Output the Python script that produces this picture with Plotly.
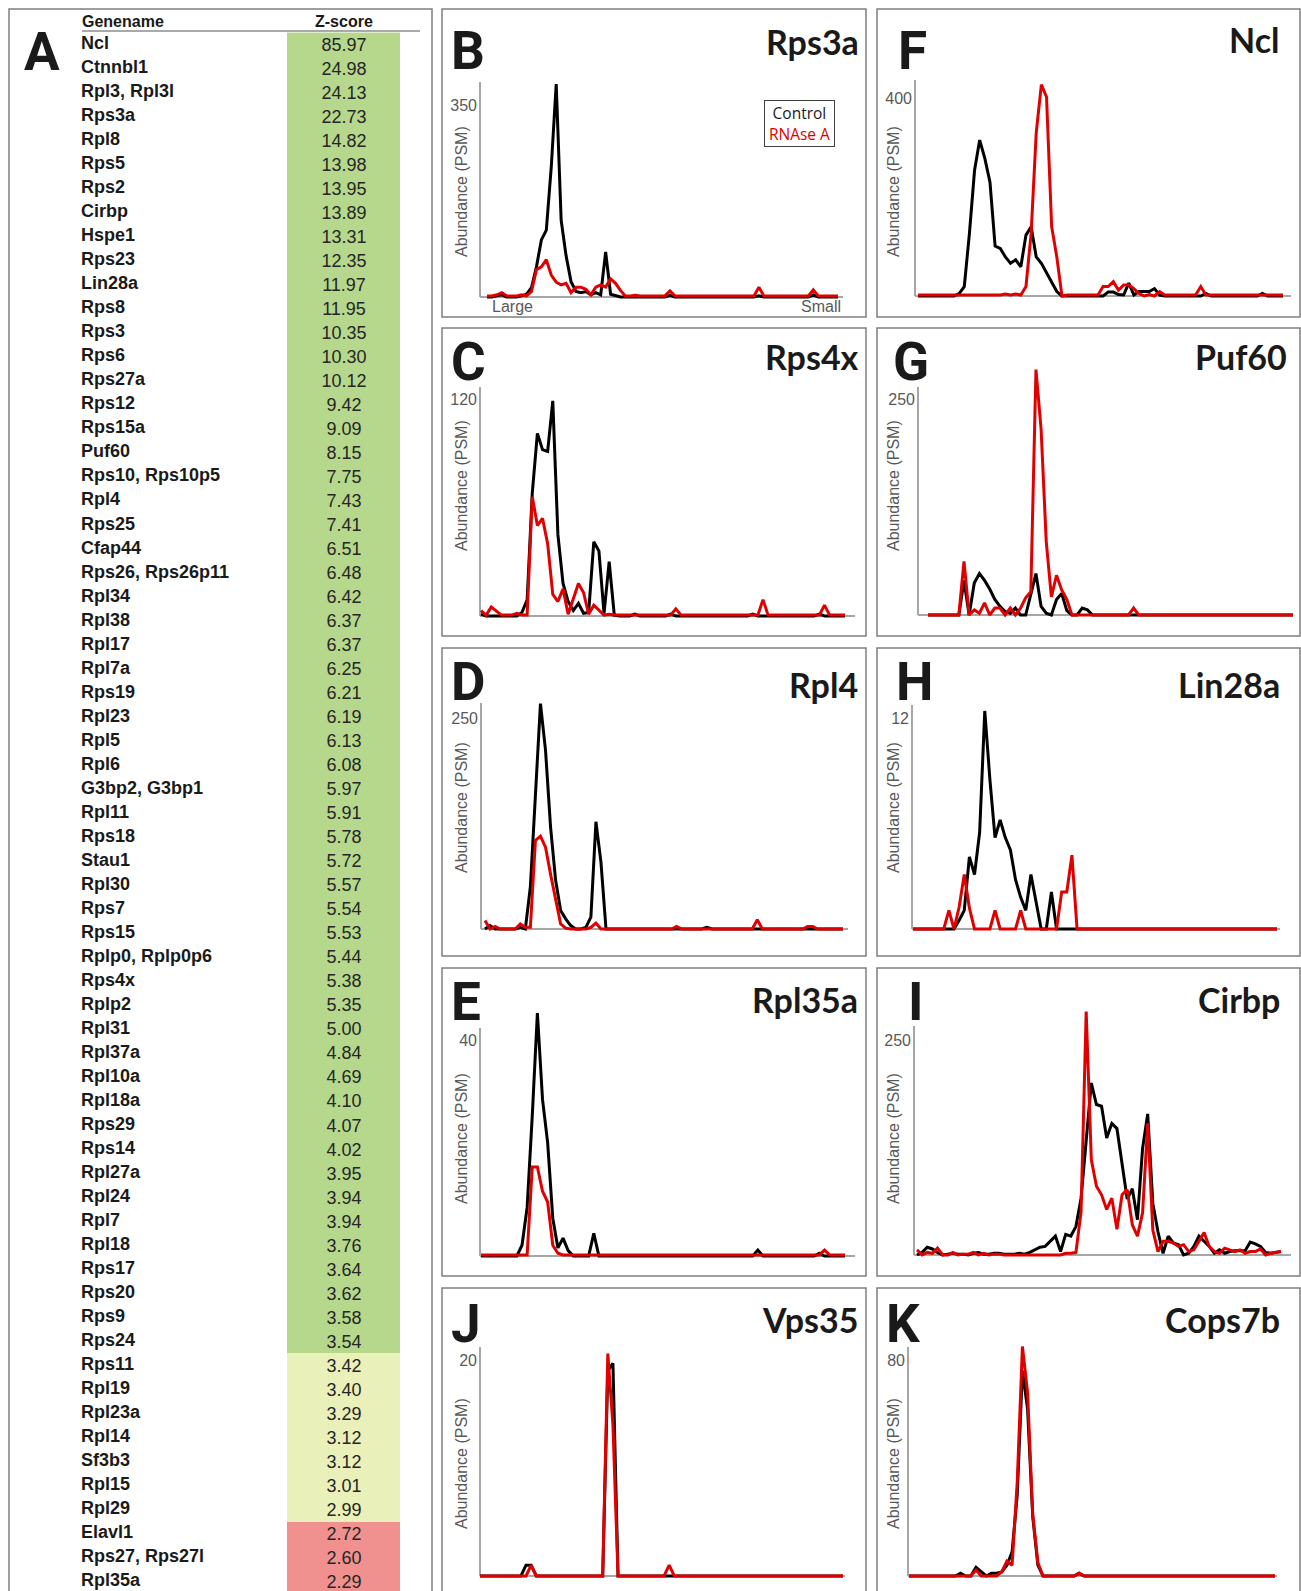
import plotly.graph_objects as go

W, H = 1301, 1591
N = 72

# ---------------- Panel A table data ----------------
genes = ["Ncl", "Ctnnbl1", "Rpl3, Rpl3l", "Rps3a", "Rpl8", "Rps5", "Rps2", "Cirbp", "Hspe1", "Rps23",
         "Lin28a", "Rps8", "Rps3", "Rps6", "Rps27a", "Rps12", "Rps15a", "Puf60", "Rps10, Rps10p5", "Rpl4",
         "Rps25", "Cfap44", "Rps26, Rps26p11", "Rpl34", "Rpl38", "Rpl17", "Rpl7a", "Rps19", "Rpl23", "Rpl5",
         "Rpl6", "G3bp2, G3bp1", "Rpl11", "Rps18", "Stau1", "Rpl30", "Rps7", "Rps15", "Rplp0, Rplp0p6", "Rps4x",
         "Rplp2", "Rpl31", "Rpl37a", "Rpl10a", "Rpl18a", "Rps29", "Rps14", "Rpl27a", "Rpl24", "Rpl7",
         "Rpl18", "Rps17", "Rps20", "Rps9", "Rps24", "Rps11", "Rpl19", "Rpl23a", "Rpl14", "Sf3b3",
         "Rpl15", "Rpl29", "Elavl1", "Rps27, Rps27l", "Rpl35a"]
zscores = [85.97, 24.98, 24.13, 22.73, 14.82, 13.98, 13.95, 13.89, 13.31, 12.35,
           11.97, 11.95, 10.35, 10.30, 10.12, 9.42, 9.09, 8.15, 7.75, 7.43,
           7.41, 6.51, 6.48, 6.42, 6.37, 6.37, 6.25, 6.21, 6.19, 6.13,
           6.08, 5.97, 5.91, 5.78, 5.72, 5.57, 5.54, 5.53, 5.44, 5.38,
           5.35, 5.00, 4.84, 4.69, 4.10, 4.07, 4.02, 3.95, 3.94, 3.94,
           3.76, 3.64, 3.62, 3.58, 3.54, 3.42, 3.40, 3.29, 3.12, 3.12,
           3.01, 2.99, 2.72, 2.60, 2.29]

# ---------------- Fraction profiles (72 fractions, large -> small) ----------------
B_ctrl = [0, 0, 2, 4, 0, 0, 0, 2, 5, 17,
          55, 104, 122, 237, 388, 140, 75, 28, 10, 8,
          10, 4, 8, 4, 82, 5, 2, 0, 0, 0,
          0, 0, 0, 0, 0, 0, 0, 3, 0, 0,
          0, 0, 0, 0, 0, 0, 0, 0, 0, 0,
          0, 0, 0, 0, 0, 2, 0, 0, 0, 0,
          0, 0, 0, 0, 0, 0, 4, 0, 0, 0,
          0, 0]
B_rna = [2, 2, 4, 8, 2, 2, 2, 4, 2, 10,
         50, 55, 68, 40, 27, 22, 25, 8, 18, 18,
         14, 4, 18, 22, 18, 33, 25, 12, 2, 2,
         3, 2, 2, 2, 2, 2, 2, 11, 2, 2,
         2, 2, 2, 2, 2, 2, 2, 2, 2, 2,
         2, 2, 2, 2, 2, 18, 2, 2, 2, 2,
         2, 2, 2, 2, 2, 2, 13, 2, 2, 2,
         2, 2]

C_ctrl = [1, 0, 0, 0, 0, 0, 0, 0, 2, 9,
          68, 101, 92, 91, 119, 45, 18, 8, 3, 7,
          1.5, 2, 41, 36, 1.5, 30, 0.5, 0, 0, 0,
          1, 0, 0, 0, 0, 0, 0, 1, 0, 0,
          0, 0, 0, 0, 0, 0, 0, 0, 0, 0,
          0, 0, 0, 1, 0, 0, 0, 0, 0, 0,
          0, 0, 0, 0, 0, 0, 1, 0, 0, 0,
          0, 0]
C_rna = [3, 0.5, 5, 3, 0.5, 0.5, 0.5, 1.5, 0.5, 0.5,
         66, 50, 54, 40, 12, 8, 15, 1, 10, 18,
         13, 1, 6, 3, 0.5, 1, 0.5, 0.5, 0.5, 0.5,
         0.5, 0.5, 0.5, 0.5, 0.5, 0.5, 0.5, 0.5, 4, 0.5,
         0.5, 0.5, 0.5, 0.5, 0.5, 0.5, 0.5, 0.5, 0.5, 0.5,
         0.5, 0.5, 0.5, 0.5, 0.5, 9, 0.5, 0.5, 0.5, 0.5,
         0.5, 0.5, 0.5, 0.5, 0.5, 0.5, 0.5, 6, 0.5, 0.5,
         0.5, 0.5]

D_ctrl = [0, 4, 0, 0, 0, 0, 0, 2, 0, 50,
          164, 267, 212, 121, 58, 22, 12, 4, 0, 0,
          2, 14, 127, 79, 0, 0, 0, 0, 0, 0,
          0, 0, 0, 0, 0, 0, 0, 0, 0, 0,
          0, 0, 0, 0, 2, 0, 0, 0, 0, 0,
          0, 0, 0, 0, 0, 0, 0, 0, 0, 0,
          0, 0, 0, 0, 0, 0, 0, 0, 0, 0,
          0, 0]
D_rna = [10, 0, 3, 0, 0, 0, 0, 6, 2, 2,
         105, 110, 97, 65, 34, 6, 1, 0, 0, 0,
         0, 2, 7, 0, 0, 0, 0, 0, 0, 0,
         0, 0, 0, 0, 0, 0, 0, 0, 3, 0,
         0, 0, 0, 0, 0, 0, 0, 0, 0, 0,
         0, 0, 0, 0, 11, 0, 0, 0, 0, 0,
         0, 0, 0, 0, 3, 3, 0, 0, 0, 0,
         0, 0]

E_ctrl = [0, 0, 0, 0, 0, 0, 0, 0, 2, 9,
          26, 45, 29, 21, 7, 1.5, 3.3, 1, 0, 0,
          0, 0, 4.2, 0, 0, 0, 0, 0, 0, 0,
          0, 0, 0, 0, 0, 0, 0, 0, 0, 0,
          0, 0, 0, 0, 0, 0, 0, 0, 0, 0,
          0, 0, 0, 0, 1.1, 0, 0, 0, 0, 0,
          0, 0, 0, 0, 0, 0, 0.5, 0, 0, 0,
          0, 0]
E_rna = [0.2, 0.2, 0.2, 0.2, 0.2, 0.2, 0.2, 0.2, 0.2, 0.2,
         16.5, 16.5, 12, 10, 2, 0.5, 0.2, 0.2, 0.2, 0.2,
         0.2, 0.2, 0.2, 0.2, 0.2, 0.2, 0.2, 0.2, 0.2, 0.2,
         0.2, 0.2, 0.2, 0.2, 0.2, 0.2, 0.2, 0.2, 0.2, 0.2,
         0.2, 0.2, 0.2, 0.2, 0.2, 0.2, 0.2, 0.2, 0.2, 0.2,
         0.2, 0.2, 0.2, 0.2, 0.2, 0.2, 0.2, 0.2, 0.2, 0.2,
         0.2, 0.2, 0.2, 0.2, 0.2, 0.2, 0.2, 1.1, 0.2, 0.2,
         0.2, 0.2]

J_ctrl = [0, 0, 0, 0, 0, 0, 0, 0, 0, 1,
          1, 0, 0, 0, 0, 0, 0, 0, 0, 0,
          0, 0, 0, 0, 0, 19, 19.7, 0, 0, 0,
          0, 0, 0, 0, 0, 0, 0, 0, 0, 0,
          0, 0, 0, 0, 0, 0, 0, 0, 0, 0,
          0, 0, 0, 0, 0, 0, 0, 0, 0, 0,
          0, 0, 0, 0, 0, 0, 0, 0, 0, 0,
          0, 0]
J_rna = [0, 0, 0, 0, 0, 0, 0, 0, 0, 0,
         1, 0, 0, 0, 0, 0, 0, 0, 0, 0,
         0, 0, 0, 0, 0, 20.6, 14, 0, 0, 0,
         0, 0, 0, 0, 0, 0, 0, 1, 0, 0,
         0, 0, 0, 0, 0, 0, 0, 0, 0, 0,
         0, 0, 0, 0, 0, 0, 0, 0, 0, 0,
         0, 0, 0, 0, 0, 0, 0, 0, 0, 0,
         0, 0]

F_ctrl = [0, 0, 0, 0, 0, 0, 0, 0, 5, 19,
          126, 254, 315, 278, 230, 101, 96, 79, 66, 73,
          59, 123, 140, 79, 66, 46, 26, 9, 0, 0,
          0, 0, 0, 0, 0, 0, 0, 8, 8, 3,
          2, 26, 2, 9, 9, 9, 15, 2, 0, 0,
          0, 0, 0, 0, 0, 0, 5, 0, 0, 0,
          0, 0, 0, 0, 0, 0, 0, 5, 0, 0,
          0, 0]
F_rna = [2, 2, 2, 2, 2, 2, 2, 2, 2, 2,
         2, 2, 2, 2, 2, 2, 2, 4, 2, 4,
         2, 19, 126, 330, 427, 402, 140, 79, 0, 2,
         2, 2, 2, 2, 2, 2, 19, 19, 29, 12,
         22, 22, 15, 5, 0, 3, 0, 9, 2, 2,
         2, 2, 2, 2, 2, 19, 2, 2, 2, 2,
         2, 2, 2, 2, 2, 2, 2, 2, 2, 2,
         2, 2]

G_ctrl = [0, 0, 0, 0, 0, 0, 0, 40, 0, 37,
          48, 40, 30, 18, 10, 4, 2, 8, 0, 0,
          25, 48, 10, 2, 0, 18, 25, 5, 0, 0,
          8, 6, 0, 0, 0, 0, 0, 0, 0, 0,
          0, 0, 0, 0, 0, 0, 0, 0, 0, 0,
          0, 0, 0, 0, 0, 0, 0, 0, 0, 0,
          0, 0, 0, 0, 0, 0, 0, 0, 0, 0,
          0, 0]
G_rna = [0, 0, 0, 0, 0, 0, 0, 62, 0, 6,
         2, 14, 0, 8, 8, 0, 8, 0, 8, 20,
         27, 284, 215, 85, 21, 46, 29, 18, 0, 0,
         0, 0, 0, 0, 0, 0, 0, 0, 0, 0,
         8, 0, 0, 0, 0, 0, 0, 0, 0, 0,
         0, 0, 0, 0, 0, 0, 0, 0, 0, 0,
         0, 0, 0, 0, 0, 0, 0, 0, 0, 0,
         0, 0]

H_ctrl = [0, 0, 0, 0, 0, 0, 0, 0, 0, 0.5,
          1.06, 4.1, 3.1, 5.5, 12.4, 8.5, 5.2, 6.2, 5.2, 4.5,
          2.8, 1.8, 1.06, 3.1, 1.5, 0, 0, 2.1, 0, 0,
          0, 0, 0, 0, 0, 0, 0, 0, 0, 0,
          0, 0, 0, 0, 0, 0, 0, 0, 0, 0,
          0, 0, 0, 0, 0, 0, 0, 0, 0, 0,
          0, 0, 0, 0, 0, 0, 0, 0, 0, 0,
          0, 0]
H_rna = [0, 0, 0, 0, 0, 0, 0, 1.06, 0, 1.25,
         3.1, 1.2, 0, 0, 0, 0, 1.06, 0, 0, 0,
         0, 1.06, 0, 0, 0, 0, 0, 0, 0, 2.1,
         2.1, 4.2, 0, 0, 0, 0, 0, 0, 0, 0,
         0, 0, 0, 0, 0, 0, 0, 0, 0, 0,
         0, 0, 0, 0, 0, 0, 0, 0, 0, 0,
         0, 0, 0, 0, 0, 0, 0, 0, 0, 0,
         0, 0]

I_ctrl = [0, 3, 9, 7, 3, 0, 1, 2, 1, 1,
          0, 2, 3, 1, 1, 2, 2, 1, 1, 1,
          2, 1, 3, 6, 9, 10, 16, 22, 4, 24,
          22, 33, 66, 135, 200, 175, 173, 136, 153, 147,
          107, 65, 77, 41, 124, 164, 60, 27, 2, 22,
          14, 12, 0, 2, 10, 22, 16, 10, 2, 6,
          2, 4, 5, 5, 5, 15, 13, 10, 3, 2,
          3, 4]
I_rna = [6, 0, 3, 2, 8, 0, 0, 3, 0, 1,
         1, 3, 0, 2, 0, 1, 1, 0, 0, 0,
         0, 0, 0, 0, 0, 0, 0, 0, 0, 2,
         2, 3, 50, 283, 111, 80, 70, 53, 66, 30,
         70, 76, 35, 22, 49, 153, 29, 4, 16, 16,
         14, 10, 12, 4, 6, 16, 26, 10, 4, 2,
         8, 6, 4, 6, 2, 4, 4, 7, 0, 2,
         3, 4]

K_ctrl = [0, 0, 0, 0, 0, 0, 0, 0, 0, 0,
          1, 0, 0, 3.2, 1.6, 0, 1, 1, 1.5, 4,
          9, 30, 76, 62, 22, 4, 0, 0, 0, 0,
          0, 0, 0, 1, 0, 0, 0, 0, 0, 0,
          0, 0, 0, 0, 0, 0, 0, 0, 0, 0,
          0, 0, 0, 0, 0, 0, 0, 0, 0, 0,
          0, 0, 0, 0, 0, 0, 0, 0, 0, 0,
          0, 0]
K_rna = [0, 0, 0, 0, 0, 0, 0, 0, 0, 0,
         0, 0, 0, 2.2, 0, 0, 0, 0, 1.6, 5.5,
         4, 35, 85, 68, 23, 5, 0, 0, 0, 0,
         0, 0, 0, 1, 0, 0, 0, 0, 0, 0,
         0, 0, 0, 0, 0, 0, 0, 0, 0, 0,
         0, 0, 0, 0, 0, 0, 0, 0, 0, 0,
         0, 0, 0, 0, 0, 0, 0, 0, 0, 0,
         0, 0]

fractions = list(range(N))

RED = "#e00000"
GRAY_AX = "#a6a6a6"
BOX = "#7f7f7f"


def X(px):
    return px / W


def Y(py):
    return 1 - py / H


# layout geometry (pixels)
panels = [
    dict(letter="B", gene="Rps3a", ctrl=B_ctrl, rna=B_rna, tick=350, ax0=480, ax1=843, dx0=487, dx1=838,
         base=297, top=82, tpy=105, box=(442, 9, 866, 317), lx=449, ly=51, tx=861, ty=41, ylx=461, yly=192),
    dict(letter="C", gene="Rps4x", ctrl=C_ctrl, rna=C_rna, tick=120, ax0=480, ax1=855, dx0=481, dx1=845,
         base=616, top=387, tpy=399, box=(442, 328, 866, 636), lx=449, ly=362, tx=861, ty=356, ylx=461, yly=486),
    dict(letter="D", gene="Rpl4", ctrl=D_ctrl, rna=D_rna, tick=250, ax0=481, ax1=848, dx0=485, dx1=843,
         base=929, top=703, tpy=718, box=(442, 648, 866, 956), lx=449, ly=682, tx=860, ty=684, ylx=461, yly=808),
    dict(letter="E", gene="Rpl35a", ctrl=E_ctrl, rna=E_rna, tick=40, ax0=480, ax1=855, dx0=481, dx1=845,
         base=1256, top=1028, tpy=1040, box=(442, 968, 866, 1276), lx=449, ly=1002, tx=860, ty=1000, ylx=461, yly=1139),
    dict(letter="J", gene="Vps35", ctrl=J_ctrl, rna=J_rna, tick=20, ax0=480, ax1=845, dx0=480, dx1=843,
         base=1576, top=1347, tpy=1360, box=(442, 1288, 866, 1620), lx=449, ly=1324, tx=860, ty=1319, ylx=461, yly=1464),
    dict(letter="F", gene="Ncl", ctrl=F_ctrl, rna=F_rna, tick=400, ax0=915, ax1=1291, dx0=918, dx1=1283,
         base=296, top=80, tpy=98, box=(877, 9, 1300, 317), lx=896, ly=51, tx=1282, ty=40, ylx=893, yly=192),
    dict(letter="G", gene="Puf60", ctrl=G_ctrl, rna=G_rna, tick=250, ax0=918, ax1=1293, dx0=928, dx1=1293,
         base=615, top=387, tpy=399, box=(877, 328, 1300, 636), lx=891, ly=362, tx=1289, ty=356, ylx=893, yly=486),
    dict(letter="H", gene="Lin28a", ctrl=H_ctrl, rna=H_rna, tick=12, ax0=912, ax1=1280, dx0=913, dx1=1277,
         base=929, top=705, tpy=718, box=(877, 648, 1300, 956), lx=894, ly=682, tx=1282, ty=684, ylx=893, yly=808),
    dict(letter="I", gene="Cirbp", ctrl=I_ctrl, rna=I_rna, tick=250, ax0=914, ax1=1291, dx0=917, dx1=1281,
         base=1255, top=1026, tpy=1040, box=(877, 968, 1300, 1276), lx=906, ly=1002, tx=1282, ty=1000, ylx=893, yly=1139),
    dict(letter="K", gene="Cops7b", ctrl=K_ctrl, rna=K_rna, tick=80, ax0=908, ax1=1277, dx0=909, dx1=1275,
         base=1576, top=1347, tpy=1360, box=(877, 1288, 1300, 1620), lx=884, ly=1324, tx=1282, ty=1319, ylx=893, yly=1464),
]

fig = go.Figure()
shapes = []
annotations = []
layout_axes = {}

EXT_TOP = 45
EXT_BOT = 3

for n, p in enumerate(panels, start=1):
    assert len(p["ctrl"]) == N and len(p["rna"]) == N
    xs = "x" if n == 1 else f"x{n}"
    ys = "y" if n == 1 else f"y{n}"
    xk = "xaxis" if n == 1 else f"xaxis{n}"
    yk = "yaxis" if n == 1 else f"yaxis{n}"
    s = (p["dx1"] - p["dx0"]) / (N - 1)
    k = (p["base"] - p["tpy"]) / p["tick"]
    layout_axes[xk] = dict(domain=[X(p["ax0"]), X(p["ax1"])],
                           range=[(p["ax0"] - p["dx0"]) / s, (p["ax1"] - p["dx0"]) / s],
                           anchor=ys, showline=False, showgrid=False, zeroline=False,
                           showticklabels=False, ticks="", fixedrange=True)
    layout_axes[yk] = dict(domain=[Y(p["base"] + EXT_BOT), Y(p["top"] - EXT_TOP)],
                           range=[-EXT_BOT / k, (p["base"] - p["top"] + EXT_TOP) / k],
                           anchor=xs, showline=False, showgrid=False,
                           zeroline=True, zerolinecolor=GRAY_AX, zerolinewidth=2,
                           tickvals=[p["tick"]], ticktext=[str(p["tick"])], ticks="",
                           ticklabelstandoff=2,
                           tickfont=dict(family="Arial", size=16, color="#595959"),
                           fixedrange=True)
    fig.add_trace(go.Scatter(x=fractions, y=p["ctrl"], mode="lines", name="Control",
                             line=dict(color="#000000", width=3), xaxis=xs, yaxis=ys,
                             showlegend=False, hoverinfo="skip"))
    fig.add_trace(go.Scatter(x=fractions, y=p["rna"], mode="lines", name="RNAse A",
                             line=dict(color=RED, width=3), xaxis=xs, yaxis=ys,
                             showlegend=False, hoverinfo="skip"))
    # y axis line
    shapes.append(dict(type="line", xref="paper", yref="paper", x0=X(p["ax0"]), x1=X(p["ax0"]),
                       y0=Y(p["base"]), y1=Y(p["top"]), line=dict(color=GRAY_AX, width=2), layer="below"))
    # panel box
    bx0, by0, bx1, by1 = p["box"]
    shapes.append(dict(type="rect", xref="paper", yref="paper", x0=X(bx0), x1=X(bx1), y0=Y(by0), y1=Y(by1),
                       line=dict(color=BOX, width=1.5), fillcolor="rgba(0,0,0,0)", layer="above"))
    annotations.append(dict(text=p["letter"], x=X(p["lx"]), y=Y(p["ly"]), xref="paper", yref="paper",
                            xanchor="left", yanchor="middle", showarrow=False,
                            font=dict(family="Roboto", size=53, color="#1a1a1a", weight="bold")))
    annotations.append(dict(text=p["gene"], x=X(p["tx"]), y=Y(p["ty"]), xref="paper", yref="paper",
                            xanchor="right", yanchor="middle", showarrow=False,
                            font=dict(family="Lato", size=34, color="#1a1a1a", weight="bold")))
    annotations.append(dict(text="Abundance (PSM)", x=X(p["ylx"]), y=Y(p["yly"]), xref="paper", yref="paper",
                            xanchor="center", yanchor="middle", textangle=-90, showarrow=False,
                            font=dict(family="Arial", size=16, color="#595959")))

# Large / Small and legend for panel B
annotations.append(dict(text="Large", x=X(490), y=Y(307), xref="paper", yref="paper", xanchor="left",
                        yanchor="middle", showarrow=False, font=dict(family="Arial", size=16, color="#595959")))
annotations.append(dict(text="Small", x=X(843), y=Y(307), xref="paper", yref="paper", xanchor="right",
                        yanchor="middle", showarrow=False, font=dict(family="Arial", size=16, color="#595959")))
annotations.append(dict(text="Control<br><span style='color:%s'>RNAse A</span>" % RED,
                        x=X(799.5), y=Y(123.5), xref="paper", yref="paper", xanchor="center", yanchor="middle",
                        showarrow=False, align="center", width=69, height=45, borderpad=0,
                        bordercolor="#404040", borderwidth=1, bgcolor="white",
                        font=dict(family="Open Sans", size=15.5, color="#1a1a1a")))

# ---------------- Panel A: table ----------------
def zcat(z):
    if z >= 3.5:
        return 2
    if z >= 2.9:
        return 1
    return 0


rows = list(range(len(genes)))
ROW0 = 44.6
ROWH = 24.02
tx_ax, ty_ax = "x11", "y11"
layout_axes["xaxis11"] = dict(domain=[0, X(442)], range=[0, 442], anchor=ty_ax, visible=False, fixedrange=True)
layout_axes["yaxis11"] = dict(domain=[0, 1], range=[(H - ROW0) / ROWH, -ROW0 / ROWH], anchor=tx_ax,
                              visible=False, fixedrange=True)

fig.add_trace(go.Heatmap(z=[[zcat(z)] for z in zscores], x0=343.5, dx=113, y0=0, dy=1,
                         text=[["%.2f" % z] for z in zscores], texttemplate="%{text}",
                         textfont=dict(family="Arial", size=18, color="#262626"),
                         colorscale=[[0, "#f0918f"], [0.5, "#eaf0ba"], [1, "#b5d88d"]],
                         zmin=0, zmax=2, showscale=False, hoverinfo="skip", xaxis=tx_ax, yaxis=ty_ax))
fig.add_trace(go.Scatter(x=[81] * len(genes), y=rows, text=genes, mode="text", textposition="middle right",
                         textfont=dict(family="Arial", size=18, color="#1a1a1a", weight="bold"),
                         hoverinfo="skip", showlegend=False, xaxis=tx_ax, yaxis=ty_ax))

annotations.append(dict(text="Genename", x=X(80), y=Y(22), xref="paper", yref="paper", xanchor="left",
                        yanchor="middle", showarrow=False,
                        font=dict(family="Arial", size=16, color="#1a1a1a", weight="bold")))
annotations.append(dict(text="Z-score", x=X(344), y=Y(22), xref="paper", yref="paper", xanchor="center",
                        yanchor="middle", showarrow=False,
                        font=dict(family="Arial", size=16, color="#1a1a1a", weight="bold")))
annotations.append(dict(text="A", x=X(22), y=Y(51.5), xref="paper", yref="paper", xanchor="left",
                        yanchor="middle", showarrow=False,
                        font=dict(family="Roboto", size=53, color="#1a1a1a", weight="bold")))
shapes.append(dict(type="line", xref="paper", yref="paper", x0=X(82), x1=X(420), y0=Y(31), y1=Y(31),
                   line=dict(color="#8c8c8c", width=1.5)))
shapes.append(dict(type="rect", xref="paper", yref="paper", x0=X(9), x1=X(432), y0=Y(9), y1=Y(1620),
                   line=dict(color=BOX, width=1.5), fillcolor="rgba(0,0,0,0)", layer="above"))

fig.update_layout(width=W, height=H, margin=dict(l=0, r=0, t=0, b=0), autosize=False,
                  paper_bgcolor="white", plot_bgcolor="rgba(0,0,0,0)", showlegend=False,
                  shapes=shapes, annotations=annotations, **layout_axes)
fig.write_html("out.html", config={"displayModeBar": False},
               post_script="document.body.style.margin='0';document.body.style.padding='0';"
                           "document.body.style.overflow='hidden';")
